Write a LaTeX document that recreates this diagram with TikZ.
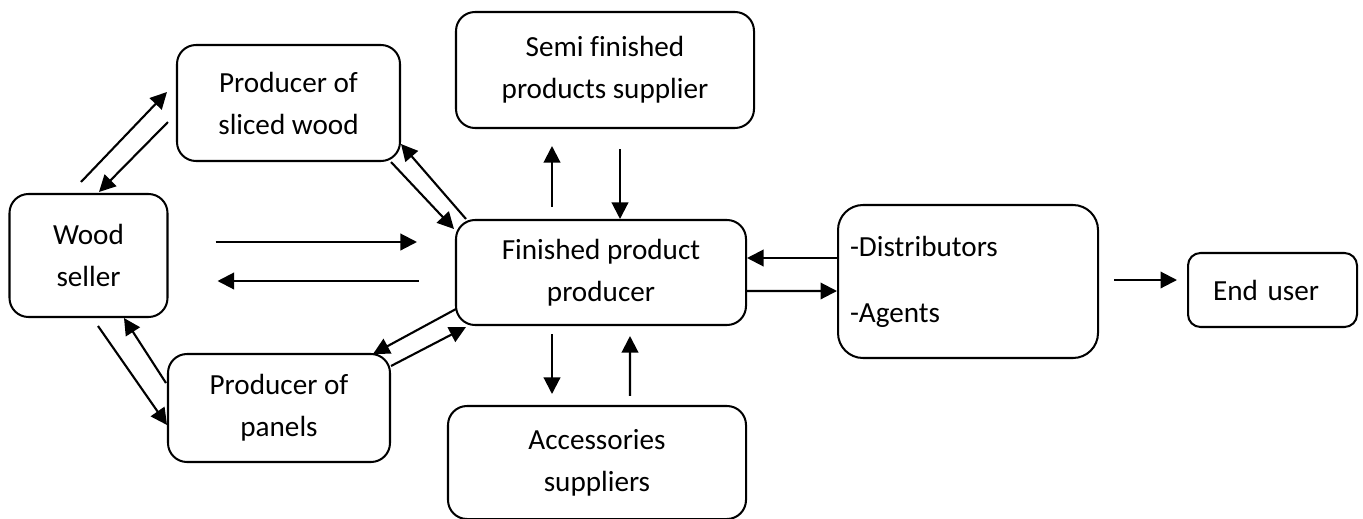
\documentclass[tikz,border=0pt]{standalone}
\usepackage{fontspec}
\setmainfont{Carlito}[Ligatures=NoCommon]
\usetikzlibrary{arrows.meta}

\begin{document}
\begin{tikzpicture}[
  every node/.style={font=\fontsize{16.6pt}{23.9pt}\selectfont},
  box/.style={draw, line width=1.15pt, rounded corners=0.38cm, align=center, inner sep=0pt},
  arr/.style={-{Triangle[length=0.33cm, width=0.33cm]}, line width=1.2pt}
]
  \useasboundingbox (0,0) rectangle (27.26,-10.36);
  \node[box, minimum width=3.16cm, minimum height=2.46cm] (Seller) at (1.77,-5.11) {Wood\\seller};
  \node[box, minimum width=4.46cm, minimum height=2.32cm] (Sliced) at (5.77,-2.06) {Producer of\\sliced wood};
  \node[box, minimum width=4.44cm, minimum height=2.16cm] (Panels) at (5.58,-8.16) {Producer of\\panels};
  \node[box, minimum width=5.96cm, minimum height=2.32cm] (Semi) at (12.10,-1.40) {Semi finished\\products supplier};
  \node[box, minimum width=5.80cm, minimum height=2.10cm] (Fin) at (12.02,-5.45) {Finished product\\producer};
  \node[box, minimum width=5.96cm, minimum height=2.26cm] (Acc) at (11.94,-9.25) {Accessories\\suppliers};
  \node[box, rounded corners=0.5cm, text width=4.72cm, inner xsep=0.24cm, align=left, minimum height=3.06cm] (Dist) at (19.36,-5.63) {-Distributors\\[0.48cm]-Agents};
  \node[box, rounded corners=0.25cm, text width=2.38cm, inner xsep=0.5cm, align=left, minimum height=1.48cm] (End) at (25.45,-5.80) {End user};
  \draw[arr] ([shift={(-0.15,0.22)}]Seller.north) -- ([shift={(-0.18,0.22)}]Sliced.west);
  \draw[arr] ([shift={(-0.16,-0.38)}]Sliced.west) -- ([shift={(0.21,0.02)}]Seller.north);
  \draw[arr] ([xshift=-0.2cm]Sliced.south east) -- ([shift={(-0.02,-0.2)}]Fin.north west);
  \draw[arr] ([xshift=0.22cm]Fin.north west) -- ([yshift=0.36cm]Sliced.south east);
  \draw[arr] ([shift={(0.94,0.27)}]Seller.east) -- ([shift={(-0.76,0.61)}]Fin.west);
  \draw[arr] ([shift={(-0.72,-0.17)}]Fin.west) -- ([shift={(0.98,-0.51)}]Seller.east);
  \draw[arr] ([shift={(0.19,-0.16)}]Seller.south) -- ([yshift=-0.34cm]Panels.west);
  \draw[arr] ([shift={(-0.02,0.5)}]Panels.west) -- ([xshift=0.71cm]Seller.south);
  \draw[arr] ([shift={(0.02,0.34)}]Fin.south west) -- ([shift={(-0.36,-0.02)}]Panels.north east);
  \draw[arr] ([yshift=-0.26cm]Panels.north east) -- ([shift={(0.22,-0.02)}]Fin.south west);
  \draw[arr] ([shift={(-0.98,0.24)}]Fin.north) -- ([shift={(-1.06,-0.34)}]Semi.south);
  \draw[arr] ([shift={(0.30,-0.40)}]Semi.south) -- ([xshift=0.38cm]Fin.north);
  \draw[arr] ([shift={(-0.98,-0.16)}]Fin.south) -- ([shift={(-0.90,0.22)}]Acc.north);
  \draw[arr] ([shift={(0.66,0.18)}]Acc.north) -- ([shift={(0.58,-0.20)}]Fin.south);
  \draw[arr] ([yshift=0.47cm]Dist.west) -- ([yshift=0.29cm]Fin.east);
  \draw[arr] ([yshift=-0.37cm]Fin.east) -- ([yshift=-0.19cm]Dist.west);
  \draw[arr] ([shift={(0.30,0.03)}]Dist.east) -- ([shift={(-0.20,0.20)}]End.west);
\end{tikzpicture}
\end{document}
